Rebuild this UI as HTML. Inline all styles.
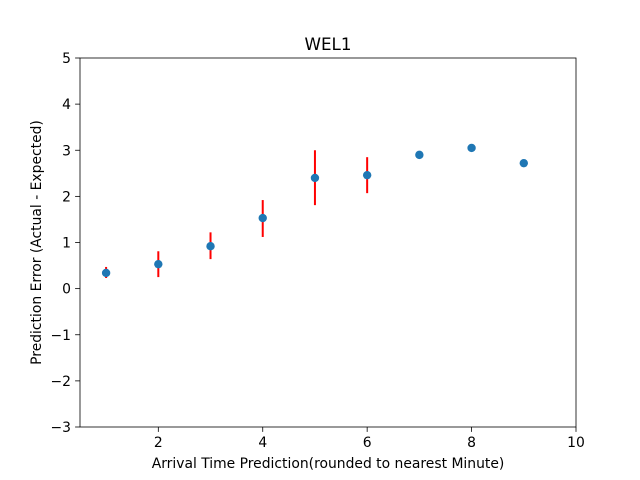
<!DOCTYPE html>
<html><head><meta charset="utf-8"><style>
body{margin:0;background:#fff;}
svg{display:block;font-family:"DejaVu Sans","Liberation Sans",sans-serif;}
</style></head><body>
<svg id="chart" width="640" height="480"></svg>
<script>
const categories=[1,2,3,4,5,6,7,8,9];
const meanErrors=[0.34,0.53,0.92,1.53,2.40,2.46,2.90,3.05,2.72];
const errLow=[0.23,0.25,0.64,1.12,1.81,2.07,null,null,null];
const errHigh=[0.47,0.81,1.22,1.92,3.00,2.85,null,null,null];
const xTicks=[2,4,6,8,10];
const yTicks=[-3,-2,-1,0,1,2,3,4,5];
const L=80,R=576,T=58,B=427,xmin=0.5,xmax=10,ymin=-3,ymax=5;
const sx=v=>L+(v-xmin)/(xmax-xmin)*(R-L);
const sy=v=>B-(v-ymin)/(ymax-ymin)*(B-T);
const NS="http://www.w3.org/2000/svg",svg=document.getElementById('chart');
function mk(t,a,txt){const e=document.createElementNS(NS,t);for(const k in a)e.setAttribute(k,a[k]);if(txt!==undefined)e.textContent=txt;svg.appendChild(e);return e;}
let e;
e=mk('rect',{x:L,y:T,width:R-L,height:B-T,fill:'none',stroke:'#000','stroke-width':0.8});

xTicks.forEach(v=>{const x=sx(v);
e=mk('line',{x1:x,x2:x,y1:B,y2:B+4.9,stroke:'#000','stroke-width':0.8});

e=mk('text',{x:x,y:B+20,'text-anchor':'middle','font-size':13.9},String(v));
});
yTicks.forEach(v=>{const y=sy(v);
e=mk('line',{x1:L-4.9,x2:L,y1:y,y2:y,stroke:'#000','stroke-width':0.8});

e=mk('text',{x:L-9,y:y+5,'text-anchor':'end','font-size':13.9},v<0?'\u2212'+Math.abs(v):String(v));
});
categories.forEach((c,i)=>{
if(errLow[i]!==null){e=mk('line',{x1:sx(c),x2:sx(c),y1:sy(errLow[i]),y2:sy(errHigh[i]),stroke:'red','stroke-width':2});
}
});
categories.forEach((c,i)=>{
e=mk('circle',{cx:sx(c),cy:sy(meanErrors[i]),r:4.2,fill:'#1f77b4'});
});
e=mk('text',{x:(L+R)/2,y:T-8,'text-anchor':'middle','font-size':16.7},'WEL1');

e=mk('text',{x:(L+R)/2,y:468,'text-anchor':'middle','font-size':13.9},'Arrival Time Prediction(rounded to nearest Minute)');

e=mk('text',{x:41,y:(T+B)/2,'text-anchor':'middle','font-size':13.9,transform:'rotate(-90 41 '+((T+B)/2)+')'},'Prediction Error (Actual - Expected)');

</script>
</body></html>
